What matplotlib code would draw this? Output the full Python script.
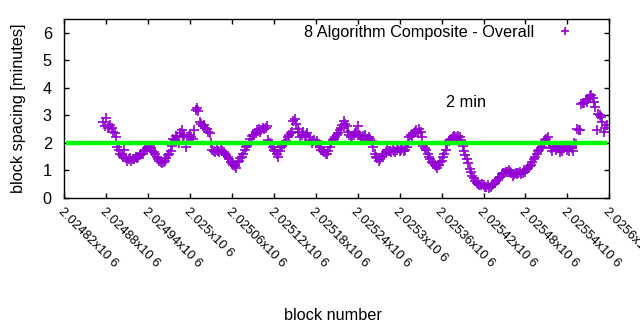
import numpy as np
import matplotlib
matplotlib.use("Agg")
import matplotlib.pyplot as plt

# ---- data ----
first_block = 2024876
block_step = 4
# readings at blocks first_block + 4*i
spacing_minutes = [
    2.75, 2.9, 2.6, 2.55, 2.35, 1.85, 1.6, 1.5, 1.45, 1.4,
    1.35, 1.4, 1.45, 1.55, 1.6, 1.75, 1.85, 1.8, 1.65, 1.5,
    1.35, 1.25, 1.35, 1.55, 1.7, 2.15, 2.25, 2.0, 2.45, 2.3,
    2.2, 2.3, 2.15, 3.2, 3.15, 2.7, 2.65, 2.5, 2.35, 1.75,
    1.65, 1.7, 1.75, 1.65, 1.55, 1.4, 1.25, 1.15, 1.3, 1.45,
    1.6, 1.85, 2.0, 2.25, 2.3, 2.45, 2.4, 2.55, 2.55, 2.1,
    1.95, 1.75, 1.6, 1.7, 1.9, 2.0, 2.2, 2.35, 2.8, 2.7,
    2.4, 2.3, 2.2, 2.35, 2.1, 2.05, 2.0, 1.95, 1.75, 1.65,
    1.6, 1.85, 2.1, 2.2, 2.35, 2.55, 2.8, 2.6, 2.3, 2.25,
    2.35, 2.6, 2.2, 2.25, 2.15, 2.2, 2.05, 1.6, 1.45, 1.4,
    1.55, 1.65, 1.7, 1.65, 1.7, 1.75, 1.7, 1.8, 1.75, 2.0,
    2.3, 2.35, 2.45, 2.5, 2.2, 1.8, 1.6, 1.4, 1.25, 1.15,
    1.2, 1.35, 1.6, 1.95, 2.1, 2.2, 2.2, 2.25, 2.1, 1.7,
    1.4, 1.05, 0.8, 0.6, 0.5, 0.45, 0.45, 0.4, 0.35, 0.45,
    0.55, 0.65, 0.75, 0.9, 0.95, 1.0, 0.9, 0.85, 0.85, 0.95,
    0.9, 0.95, 1.1, 1.2, 1.4, 1.6, 1.75, 1.85, 2.1, 2.2,
    1.8, 1.9, 1.75, 1.8, 1.7, 1.85, 1.75, 1.85, 1.7, 1.95,
    2.45, 3.4, 3.45, 3.5, 3.7, 3.65, 3.3, 3.05, 2.95, 2.4,
    2.65,
]
# readings at blocks first_block + 2 + 4*i
spacing_minutes_mid = [
    2.6, 2.55, 2.65, 2.4, 2.2, 1.75, 1.55, 1.75, 1.35, 1.45,
    1.4, 1.5, 1.5, 1.6, 1.7, 1.8, 1.9, 1.7, 1.6, 1.4,
    1.3, 1.3, 1.45, 1.6, 1.9, 2.1, 2.2, 2.35, 2.25, 1.85,
    2.25, 2.2, 2.45, 3.25, 2.75, 2.6, 2.55, 2.4, 2.0, 1.7,
    1.75, 1.65, 1.7, 1.6, 1.5, 1.3, 1.2, 1.1, 1.35, 1.5,
    1.75, 1.9, 2.15, 2.3, 2.35, 2.5, 2.45, 2.5, 2.6, 2.0,
    1.85, 1.7, 1.5, 1.85, 1.95, 2.05, 2.3, 2.4, 2.85, 2.5,
    2.2, 2.4, 2.3, 2.2, 2.0, 2.1, 2.05, 1.85, 1.7, 1.6,
    1.7, 2.0, 2.15, 2.3, 2.45, 2.65, 2.7, 2.4, 2.2, 2.3,
    2.4, 2.3, 2.15, 2.3, 2.1, 2.15, 1.85, 1.5, 1.35, 1.5,
    1.6, 1.75, 1.7, 1.75, 1.65, 1.8, 1.75, 1.7, 1.85, 2.2,
    2.25, 2.4, 2.35, 2.4, 1.9, 1.75, 1.5, 1.3, 1.2, 1.1,
    1.3, 1.5, 1.75, 2.05, 2.15, 2.25, 2.15, 2.2, 1.9, 1.55,
    1.25, 0.95, 0.7, 0.55, 0.45, 0.5, 0.4, 0.45, 0.4, 0.5,
    0.6, 0.7, 0.85, 0.9, 0.95, 0.95, 0.8, 0.9, 0.9, 0.85,
    1.0, 1.05, 1.15, 1.3, 1.5, 1.7, 1.8, 2.0, 2.15, 1.95,
    1.7, 1.85, 1.9, 1.65, 1.8, 1.9, 1.7, 1.8, 2.0, 2.5,
    2.45, 3.45, 3.55, 3.6, 3.75, 3.5, 2.45, 3.0, 2.75, 2.55,
]
blocks_a = first_block + block_step * np.arange(len(spacing_minutes))
blocks_b = first_block + 2 + block_step * np.arange(len(spacing_minutes_mid))
blocks = np.concatenate([blocks_a, blocks_b])
values = np.concatenate([spacing_minutes, spacing_minutes_mid])

target_minutes = 2
series_label = "8 Algorithm Composite - Overall"
target_label = "2 min"
x_ticks = np.arange(2024820, 2025601, 60)
x_tick_labels = ["%gx10 6" % (t / 1e6) for t in x_ticks]
y_ticks = [0, 1, 2, 3, 4, 5, 6]

# ---- figure ----
plt.rcParams['font.family'] = ['Liberation Sans', 'DejaVu Sans']
fig = plt.figure(figsize=(6.4, 3.3), dpi=100)
ax = fig.add_axes([64.3 / 640, 1 - 197.7 / 330, (609.3 - 64.3) / 640, (197.7 - 19.3) / 330])

pts, = ax.plot(blocks, values, linestyle='none', marker='+',
               color='#9400d3', markersize=6.5, markeredgewidth=1.2,
               label=series_label, zorder=2)
ax.axhline(target_minutes, xmin=0.004, xmax=0.995, color='#00ff00',
           linewidth=3.2, solid_capstyle='butt', zorder=3)

ax.set_xlim(2024820, 2025600)
ax.set_ylim(0, 6.5)
ax.set_xticks(x_ticks)
ax.set_xticklabels(x_tick_labels, rotation=-45, ha='left', va='top',
                   rotation_mode='anchor', fontsize=9.3)
ax.set_yticks(y_ticks)
ax.tick_params(axis='both', direction='in', length=3.5, width=1,
               top=True, right=True, labelsize=11.7)
ax.tick_params(axis='x', labelsize=9.3, pad=6)
ax.tick_params(axis='y', pad=9)
for s in ax.spines.values():
    s.set_linewidth(1)

ax.set_ylabel("block spacing [minutes]", fontsize=11.7, labelpad=12)
fig.text(333 / 640, 1 - 316 / 330, "block number", ha='center', va='center',
         fontsize=11.7)
ax.text(2025366, 3.46, target_label, ha='left', va='center', fontsize=11.7)

leg = ax.legend(handles=[pts], loc='upper right', markerfirst=False, frameon=False,
                bbox_to_anchor=(581 / 640, 1 - 25 / 330),
                bbox_transform=fig.transFigure, borderaxespad=0, borderpad=0,
                handlelength=2, handletextpad=0.85, fontsize=11.7, markerscale=0.8)

fig.savefig("out.png", dpi=100)
